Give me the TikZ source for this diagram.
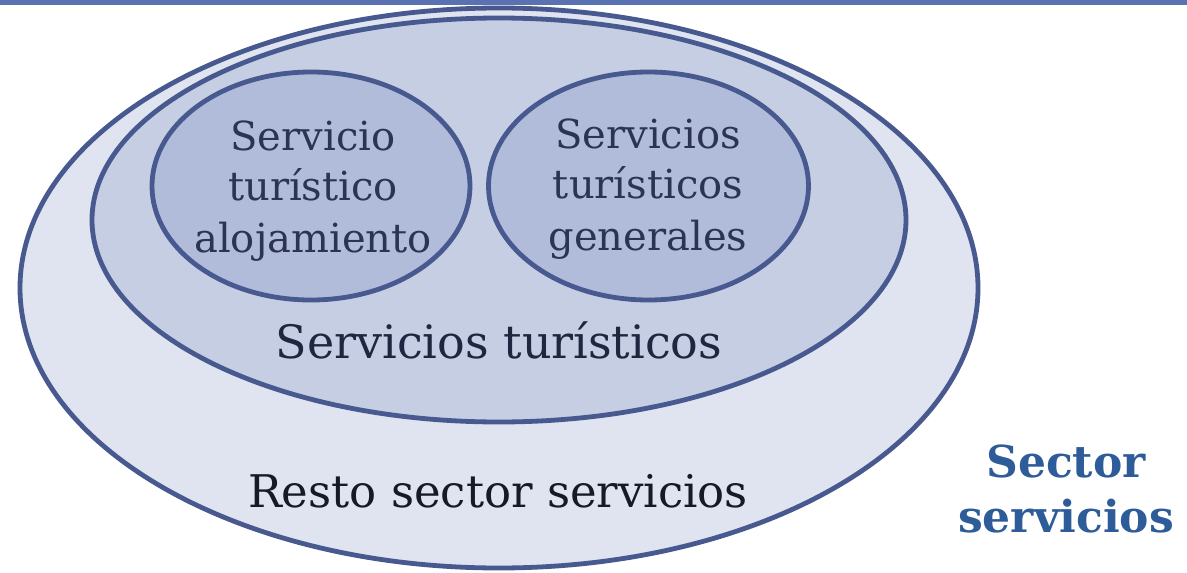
\documentclass[tikz,border=0pt]{standalone}
\usepackage{fontspec}
\setmainfont{DejaVu Serif}
\definecolor{topblue}{HTML}{5A72B2}
\definecolor{edgeblue}{HTML}{47598F}
\definecolor{outerfill}{HTML}{E0E4F0}
\definecolor{midfill}{HTML}{C5CEE3}
\definecolor{innerfill}{HTML}{B1BBDA}
\definecolor{innertext}{HTML}{2B3452}
\definecolor{midtext}{HTML}{1F2740}
\definecolor{outertext}{HTML}{161A26}
\definecolor{sectorblue}{HTML}{2E5C99}
\begin{document}
\begin{tikzpicture}[x=1pt,y=-1pt,
  ring/.style={draw=edgeblue, line width=4.8pt},
  innerlbl/.style={font=\fontsize{40}{48}\selectfont, text=innertext, anchor=base, inner sep=0pt},
  midlbl/.style={font=\fontsize{46}{54}\selectfont, text=midtext, anchor=base, inner sep=0pt},
  outerlbl/.style={font=\fontsize{45}{54}\selectfont, text=outertext, anchor=base, inner sep=0pt},
  sectorlbl/.style={font=\bfseries\fontsize{44}{52}\selectfont, text=sectorblue, anchor=base, inner sep=0pt}]
\useasboundingbox (0,0) rectangle (1187,573);
\fill[topblue] (0,0) rectangle (1187,4.5);
\draw[ring, fill=outerfill] (499,288) ellipse [x radius=479, y radius=280];
\draw[ring, fill=midfill] (499,220) ellipse [x radius=407, y radius=202];
\draw[ring, fill=innerfill] (311,186) ellipse [x radius=159, y radius=114];
\draw[ring, fill=innerfill] (648.5,186) ellipse [x radius=160, y radius=114];
% left inner
\node[innerlbl] (l1) at (313,150) {Servicio};
\node[innerlbl] (l2) at (313,200) {turístico};
\node[innerlbl] (l3) at (313,252) {alojamiento};
% right inner
\node[innerlbl] (r1) at (648,148) {Servicios};
\node[innerlbl] (r2) at (648,198) {turísticos};
\node[innerlbl] (r3) at (648,250) {generales};
% middle
\node[midlbl] (mid) at (499,358) {Servicios turísticos};
% outer
\node[outerlbl] (out) at (498,507) {Resto sector servicios};
% sector
\node[sectorlbl] (s1) at (1066,477) {Sector};
\node[sectorlbl] (s2) at (1066,532) {servicios};
\end{tikzpicture}
\end{document}
